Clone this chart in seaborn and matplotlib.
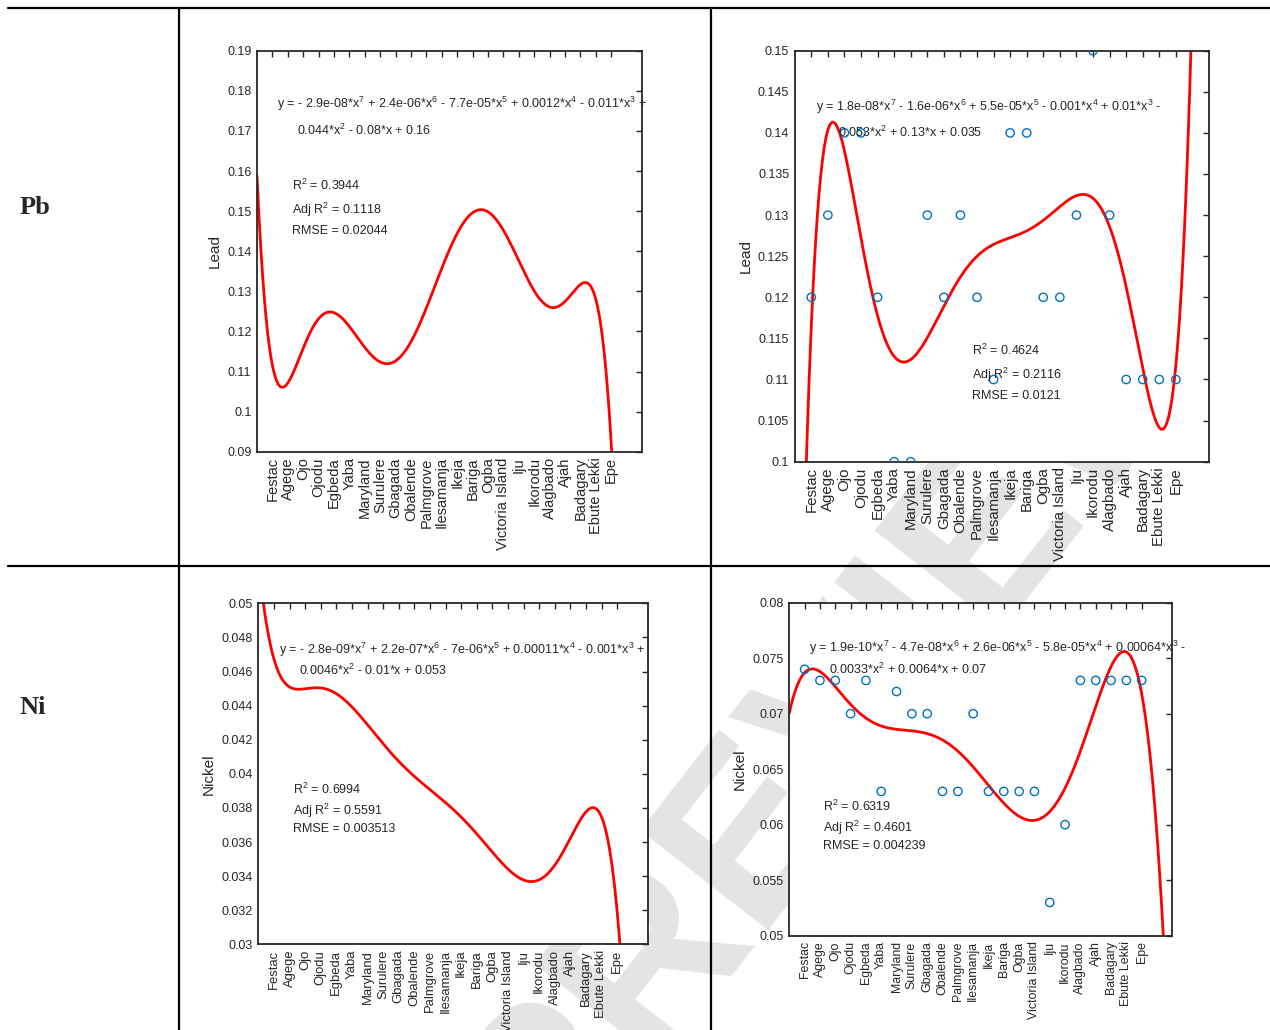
import numpy as np
import seaborn as sns
import matplotlib.pyplot as plt
from matplotlib.lines import Line2D
from matplotlib.ticker import FormatStrFormatter, MultipleLocator

# sampling sites (x = 1..23)
sites = ["Festac", "Agege", "Ojo", "Ojodu", "Egbeda", "Yaba", "Maryland", "Surulere",
         "Gbagada", "Obalende", "Palmgrove", "Ilesamanja", "Ikeja", "Bariga", "Ogba",
         "Victoria Island", "Iju", "Ikorodu", "Alagbado", "Ajah", "Badagary",
         "Ebute Lekki", "Epe"]
site_x = np.arange(1, 24)

curve_x = np.arange(0, 24)
pb_curve = [0.1586, 0.1115, 0.1084, 0.1147, 0.1226, 0.1248, 0.1215, 0.1162, 0.1125,
            0.1130, 0.1175, 0.1258, 0.1350, 0.1435, 0.1505, 0.1503, 0.1449, 0.1378,
            0.1307, 0.1262, 0.1262, 0.1311, 0.1297, 0.0915]
ni_curve = [0.0525, 0.0471, 0.04492, 0.04486, 0.04496, 0.04471, 0.04402, 0.0430,
            0.04186, 0.04071, 0.03976, 0.03892, 0.03816, 0.03751, 0.03662, 0.03559,
            0.03456, 0.03368, 0.03349, 0.03447, 0.03653, 0.03786, 0.0373, 0.0320]

# right column: measured values
pb_obs = [0.12, 0.13, 0.14, 0.14, 0.12, 0.10, 0.10, 0.13, 0.12, 0.13, 0.12, 0.11,
          0.14, 0.14, 0.12, 0.12, 0.13, 0.15, 0.13, 0.11, 0.11, 0.11, 0.11]
ni_obs = [0.074, 0.073, 0.073, 0.070, 0.073, 0.063, 0.072, 0.070, 0.070, 0.063, 0.063,
          0.070, 0.063, 0.063, 0.063, 0.063, 0.053, 0.060, 0.073, 0.073, 0.073, 0.073,
          0.073]

pb_eq_a = [r"y = - 2.9e-08*x$^{7}$ + 2.4e-06*x$^{6}$ - 7.7e-05*x$^{5}$ + 0.0012*x$^{4}$ - 0.011*x$^{3}$ +",
           r"0.044*x$^{2}$ - 0.08*x + 0.16"]
pb_eq_b = [r"y = 1.8e-08*x$^{7}$ - 1.6e-06*x$^{6}$ + 5.5e-05*x$^{5}$ - 0.001*x$^{4}$ + 0.01*x$^{3}$ -",
           r"0.053*x$^{2}$ + 0.13*x + 0.035"]
ni_eq_a = [r"y = - 2.8e-09*x$^{7}$ + 2.2e-07*x$^{6}$ - 7e-06*x$^{5}$ + 0.00011*x$^{4}$ - 0.001*x$^{3}$ +",
           r"0.0046*x$^{2}$ - 0.01*x + 0.053"]
ni_eq_b = [r"y = 1.9e-10*x$^{7}$ - 4.7e-08*x$^{6}$ + 2.6e-06*x$^{5}$ - 5.8e-05*x$^{4}$ + 0.00064*x$^{3}$ -",
           r"0.0033*x$^{2}$ + 0.0064*x + 0.07"]

pb_stats_a = ["R$^{2}$ = 0.3944", "Adj R$^{2}$ = 0.1118", "RMSE = 0.02044"]
pb_stats_b = ["R$^{2}$ = 0.4624", "Adj R$^{2}$ = 0.2116", "RMSE = 0.0121"]
ni_stats_a = ["R$^{2}$ = 0.6994", "Adj R$^{2}$ = 0.5591", "RMSE = 0.003513"]
ni_stats_b = ["R$^{2}$ = 0.6319", "Adj R$^{2}$ = 0.4601", "RMSE = 0.004239"]

sns.set_style("white")
plt.rcParams['font.family'] = ['Liberation Sans', 'DejaVu Sans']
plt.rcParams['mathtext.fontset'] = 'custom'
plt.rcParams['mathtext.rm'] = 'Liberation Sans'
plt.rcParams['mathtext.it'] = 'Liberation Sans:italic'
plt.rcParams['mathtext.bf'] = 'Liberation Sans:bold'

W, H = 1270, 1030
fig = plt.figure(figsize=(12.7, 10.3), dpi=100)
fig.patch.set_facecolor('white')


def box(l, t, r, b):
    return fig.add_axes([l / W, 1 - b / H, (r - l) / W, (b - t) / H])


def panel(ax, y, x, ylim, ystep, ylabel, eq, eqy, stats, sx, sy, points, xfs):
    ax.set_xlim(0, 25)
    # 7th-order polynomial fit, drawn over the whole x range
    coef = np.polyfit(x, y, 7)
    gx = np.linspace(0, 25, 800)
    sns.lineplot(x=gx, y=np.polyval(coef, gx), ax=ax, color='red', lw=2.0, zorder=2)
    if points:
        sns.regplot(x=x, y=y, fit_reg=False, ax=ax, marker='o',
                    scatter_kws={'color': '#0072BD', 'facecolors': 'none', 's': 36,
                                 'linewidths': 1.0, 'alpha': 1, 'zorder': 3})
    ax.set_xlim(0, 25)
    ax.set_ylim(*ylim)
    ax.yaxis.set_major_locator(MultipleLocator(ystep))
    ax.yaxis.set_major_formatter(FormatStrFormatter('%g'))
    ax.set_xticks(site_x)
    ax.set_xticklabels(sites, rotation=90, fontsize=xfs)
    ax.tick_params(axis='y', labelsize=9)
    ax.tick_params(direction='in', top=True, right=True, length=4, width=1,
                   colors='#262626', pad=4)
    ax.set_xlabel("")
    ax.set_ylabel(ylabel, fontsize=11, color='#262626', labelpad=4)
    for s in ax.spines.values():
        s.set_visible(True)
        s.set_color('#262626')
        s.set_linewidth(1.3)
    ax.text(0.052, eqy[0], eq[0], transform=ax.transAxes, fontsize=9, va='center', ha='left')
    ax.text(0.104, eqy[1], eq[1], transform=ax.transAxes, fontsize=9, va='center', ha='left')
    for line, yy in zip(stats, sy):
        ax.text(sx, yy, line, transform=ax.transAxes, fontsize=9, va='center', ha='left')


ax1 = box(257, 50.7, 642, 451.7)
panel(ax1, pb_curve, curve_x, (0.09, 0.19), 0.01, "Lead", pb_eq_a, (0.867, 0.802),
      pb_stats_a, 0.091, (0.663, 0.603, 0.550), False, 10.5)

ax2 = box(794.7, 50.7, 1209, 461.7)
panel(ax2, pb_obs, site_x, (0.1, 0.15), 0.005, "Lead", pb_eq_b, (0.863, 0.802),
      pb_stats_b, 0.428, (0.272, 0.211, 0.160), True, 10.8)

ax3 = box(258.3, 603.3, 648.3, 944.3)
panel(ax3, ni_curve, curve_x, (0.03, 0.05), 0.002, "Nickel", ni_eq_a, (0.863, 0.802),
      ni_stats_a, 0.089, (0.453, 0.392, 0.339), False, 9.4)

ax4 = box(789.3, 602.7, 1172.3, 935.7)
panel(ax4, ni_obs, site_x, (0.05, 0.08), 0.005, "Nickel", ni_eq_b, (0.864, 0.800),
      ni_stats_b, 0.088, (0.387, 0.324, 0.270), True, 8.9)

# row labels
fig.text(20 / W, 1 - 208 / H, "Pb", fontsize=19, fontweight='bold',
         family='Liberation Serif', va='center', ha='left')
fig.text(20 / W, 1 - 707 / H, "Ni", fontsize=19, fontweight='bold',
         family='Liberation Serif', va='center', ha='left')

# table grid
for (x0, y0, x1, y1) in [(8, 8, W, 8), (8, 566, W, 566), (179, 8, 179, H), (711, 8, 711, H)]:
    fig.add_artist(Line2D([x0 / W, x1 / W], [1 - y0 / H, 1 - y1 / H], color='black',
                          lw=1.6, transform=fig.transFigure))

# faint watermark behind the axes
fig.text(0.66, 0.30, "PREVIEW", rotation=52, fontsize=170, color='#e4e4e4',
         fontweight='bold', ha='center', va='center', zorder=-1)

fig.savefig("out.png", dpi=100, facecolor='white')
